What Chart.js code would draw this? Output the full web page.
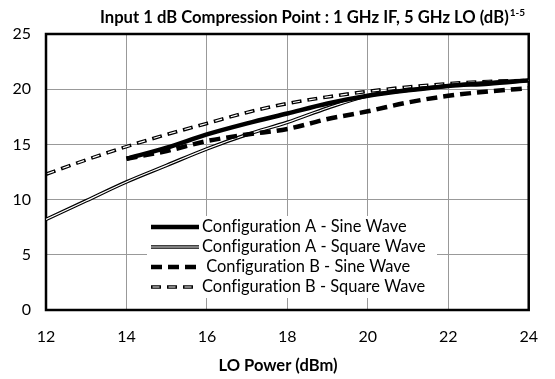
<!DOCTYPE html>
<html>
<head>
<meta charset="utf-8">
<script src="https://cdn.jsdelivr.net/npm/chart.js@4"></script>
<style>
html,body{margin:0;padding:0;background:#fff;}
</style>
</head>
<body>
<canvas id="myChart" width="555" height="379"></canvas>
<script>
'use strict'
// LO power in dBm, one value per series point
let loPower=[12,13,14,15,16,17,18,19,20,21,22,23,24];
let aSine=[null,null,13.7,14.7,15.9,16.9,17.8,18.7,19.4,19.9,20.3,20.5,20.8];
let aSquare=[8.2,9.9,11.6,13.1,14.6,15.9,17.0,18.3,19.4,19.9,20.3,20.6,20.8];
let bSine=[null,null,13.7,14.4,15.3,15.9,16.4,17.3,18.0,18.8,19.4,19.8,20.1];
let bSquare=[12.3,13.6,14.8,15.9,16.9,17.9,18.7,19.3,19.8,20.2,20.5,20.7,20.8];
let xTicks=[12,14,16,18,20,22,24];
let yTicks=[0,5,10,15,20,25];

let titleText='Input 1 dB Compression Point : 1 GHz IF, 5 GHz LO (dB)';
let titleSup='1-5';
let xTitle='LO Power (dBm)';
let legendNames=['Configuration A - Sine Wave','Configuration A - Square Wave',' Configuration B - Sine Wave','Configuration B - Square Wave'];

let fontFam='Lato, "Open Sans", sans-serif';

function pts(arr){
    let out=[];
    for(let i=0;i<loPower.length;i++){
        if(arr[i]!==null) out.push({x:loPower[i],y:arr[i]});
    }
    return out;
}

function line(label,arr,color,width,dash,offset,order){
    return {
        label:label,
        data:pts(arr),
        borderColor:color,
        borderWidth:width,
        borderDash:dash,
        borderDashOffset:offset,
        pointRadius:0,
        fill:false,
        tension:0.4,
        cubicInterpolationMode:'monotone',
        order:order
    };
}

let datasets=[
    line(legendNames[0],aSine,'#000',4.5,[],0,1),
    line(legendNames[1],aSquare,'#000',3.6,[],0,4),
    line('',aSquare,'#fff',1.2,[],0,3),
    line(legendNames[2],bSine,'#000',4.5,[11,6],0,2),
    line(legendNames[3],bSquare,'#000',3.6,[10,6],0,6),
    line('',bSquare,'#fff',1.2,[7,9],-1.5,5)
];

// legend samples: [dash, outer width, inner white width]
let legendStyles=[[[],4.5,0],[[],3.6,1.2],[[11,6],4.5,0],[[10,6],3.6,1.2]];

// pick a font size so the text is as wide as in the reference
function fitFont(ctx,text,weight,target){
    ctx.font=weight+'20px '+fontFam;
    let w=ctx.measureText(text).width;
    return weight+(20*target/w).toFixed(2)+'px '+fontFam;
}

const extras={
    id:'extras',
    beforeDatasetsDraw(chart){
        let ctx=chart.ctx, a=chart.chartArea;
        ctx.save();
        ctx.strokeStyle='#000';
        ctx.lineWidth=2.5;
        ctx.strokeRect(a.left,a.top,a.right-a.left,a.bottom-a.top);
        ctx.restore();
    },
    afterDraw(chart){
        let ctx=chart.ctx;
        ctx.save();
        ctx.textRendering='optimizeSpeed'; // no "ti" ligature
        // title with superscript
        ctx.fillStyle='#000';
        ctx.textBaseline='middle';
        ctx.textAlign='left';
        ctx.font=fitFont(ctx,titleText,'bold ',409);
        let tx=100;
        ctx.fillText(titleText,tx,18);
        let w=ctx.measureText(titleText).width;
        ctx.font='bold 10px '+fontFam;
        ctx.fillText(titleSup,tx+w+1,13);
        // x axis title
        ctx.font=fitFont(ctx,xTitle,'bold ',119);
        ctx.textAlign='center';
        ctx.fillText(xTitle,278,366);
        // legend box
        ctx.fillStyle='#fff';
        ctx.fillRect(147,216,290,82);
        let rows=[227,247,267,287];
        let legFont=fitFont(ctx,legendNames[1],'',224);
        for(let i=0;i<4;i++){
            let s=legendStyles[i];
            ctx.lineCap='butt';
            ctx.setLineDash(s[0]);
            ctx.lineDashOffset=0;
            ctx.strokeStyle='#000';
            ctx.lineWidth=s[1];
            ctx.beginPath();ctx.moveTo(151,rows[i]);ctx.lineTo(199,rows[i]);ctx.stroke();
            if(s[2]>0){
                if(s[0].length){ctx.setLineDash([7,9]);ctx.lineDashOffset=-1.5;}
                ctx.strokeStyle='#fff';
                ctx.lineWidth=s[2];
                ctx.beginPath();ctx.moveTo(151,rows[i]);ctx.lineTo(199,rows[i]);ctx.stroke();
            }
            ctx.setLineDash([]);
            ctx.fillStyle='#000';
            ctx.textAlign='left';
            ctx.font=legFont;
            ctx.fillText(legendNames[i],202,rows[i]);
        }
        ctx.restore();
    }
};

const config={
    type:'line',
    data:{datasets:datasets},
    options:{
        responsive:false,
        animation:false,
        layout:{padding:{top:34,right:9,left:0,bottom:0}},
        plugins:{legend:{display:false},title:{display:false},tooltip:{enabled:false}},
        scales:{
            x:{
                type:'linear',min:12,max:24,
                afterBuildTicks(s){s.ticks=xTicks.map(v=>({value:v}));},
                afterFit(s){s.height=69;},
                grid:{color:'#999',lineWidth:1,drawTicks:false},
                border:{display:false},
                ticks:{color:'#000',padding:17,font:{family:fontFam,size:16}}
            },
            y:{
                min:0,max:25,
                afterBuildTicks(s){s.ticks=yTicks.map(v=>({value:v}));},
                afterFit(s){s.width=46;},
                grid:{color:'#999',lineWidth:1,drawTicks:false},
                border:{display:false},
                ticks:{color:'#000',padding:15,font:{family:fontFam,size:16}}
            }
        }
    },
    plugins:[extras]
};

var myChart=new Chart(document.getElementById('myChart'),config);
</script>
</body>
</html>
